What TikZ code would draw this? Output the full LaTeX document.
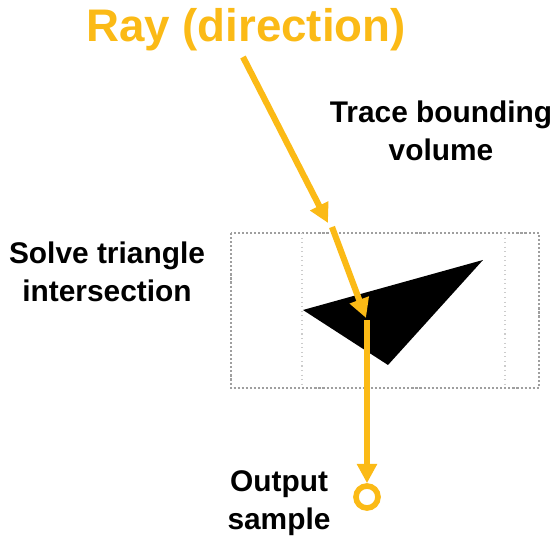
\documentclass[tikz,border=0pt]{standalone}
\usepackage{fontspec}
\setmainfont{Liberation Sans}
\usepackage{xcolor}
\usepackage{tikz}
\usetikzlibrary{arrows.meta, positioning}

\definecolor{rayorange}{RGB}{251,186,22}

\begin{document}
\begin{tikzpicture}[x=0.02cm, y=-0.02cm, every node/.style={font=\bfseries}]
    % Styles
    \tikzstyle{note} = [align=center, inner sep=0pt, font=\bfseries\fontsize{17}{21.5}\selectfont]
    \tikzstyle{raytitle} = [inner sep=0pt, text=rayorange, font=\bfseries\fontsize{26}{30}\selectfont]
    \tikzstyle{raypath} = [draw=rayorange, line width=3.5pt, -{Triangle[length=11pt, width=11pt]}]
    \tikzstyle{sampledot} = [circle, draw=rayorange, line width=3.2pt, fill=white, inner sep=0pt, minimum size=0.44cm]
    \tikzstyle{boxedge} = [draw=gray!75, line width=1.3pt, dash pattern=on 1.2pt off 1.1pt]
    \tikzstyle{boxsplit} = [draw=gray!40, line width=0.6pt, dotted]

    \useasboundingbox (0,0) rectangle (556,537);

    % Bounding volume
    \draw[boxedge] (231,233) rectangle (539,388);
    \draw[boxsplit] (302,233) -- (302,388);
    \draw[boxsplit] (505,233) -- (505,388);

    % Triangle
    \fill[black] (303,310) -- (483,260) -- (388,365) -- cycle;

    % Nodes
    \node[raytitle, anchor=base] (ray) at (246,42) {Ray (direction)};
    \node[note] (trace) at (441,131) {Trace bounding\\volume};
    \node[note] (solve) at (107,272) {Solve triangle\\intersection};
    \node[note] (output) at (279,503) {Output\\sample};
    \node[sampledot] (sample) at (367,497) {};

    \coordinate (raystart) at (243,57);
    \coordinate (boxhit) at (328,223);
    \coordinate (enter) at (332,227);
    \coordinate (trihit) at (366,318);
    \coordinate (tridown) at (367,320);

    % Connections
    \draw[raypath] (raystart) -- (boxhit);
    \draw[raypath] (enter) -- (trihit);
    \draw[raypath] (tridown) -- (sample);
\end{tikzpicture}
\end{document}
